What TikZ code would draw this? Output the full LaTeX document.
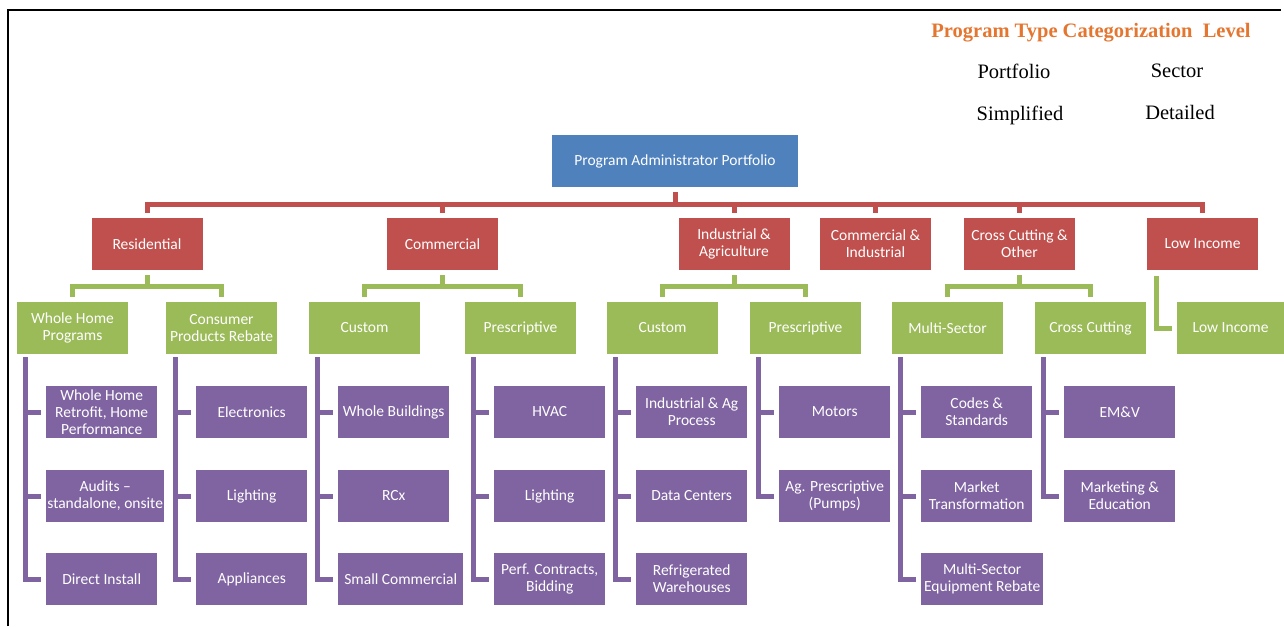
\documentclass[tikz,border=0pt]{standalone}
\usepackage{fontspec}
\newfontfamily\cf{Carlito}
\newfontfamily\tnr{Liberation Serif}
\definecolor{cblue}{RGB}{79,129,189}
\definecolor{cred}{RGB}{192,80,77}
\definecolor{cgreen}{RGB}{155,187,89}
\definecolor{cpurple}{RGB}{128,100,162}
\definecolor{corange}{RGB}{228,118,48}
\begin{document}
\begin{tikzpicture}[x=1pt,y=-1pt,
  box/.style={rectangle, inner sep=0pt, minimum height=52pt, minimum width=111pt, text=white, align=center, font=\cf\fontsize{15.5}{17}\selectfont},
  bbox/.style={box, fill=cblue},
  rbox/.style={box, fill=cred},
  gbox/.style={box, fill=cgreen},
  pbox/.style={box, fill=cpurple, anchor=west},
  rline/.style={draw=cred, line width=5pt},
  gline/.style={draw=cgreen, line width=5pt},
  pline/.style={draw=cpurple, line width=5pt},
  legtitle/.style={inner sep=0pt, text=corange, font=\tnr\bfseries\fontsize{20.5}{24}\selectfont},
  leg/.style={inner sep=0pt, font=\tnr\fontsize{20.5}{24}\selectfont}
]
\useasboundingbox (0,0) rectangle (1284,626);
\fill[white] (0,0) rectangle (1284,626);
\draw[line width=2pt] (8,626) -- (8,10) -- (1281,10);

% legend
\node[legtitle] (lt) at (1091,33) {Program Type Categorization\ \ Level};
\node[leg] (l1) at (1014,71) {Portfolio};
\node[leg] (l2) at (1177,71) {Sector};
\node[leg] (l3) at (1020,115) {Simplified};
\node[leg] (l4) at (1180,112) {Detailed};

% top
\node[bbox, minimum width=246pt] (top) at (675,161) {Program Administrator Portfolio};

% sectors
\node[rbox] (res) at (147,244) {Residential};
\node[rbox] (com) at (442.5,244) {Commercial};
\node[rbox] (ind) at (734,244) {Industrial \&\\Agriculture};
\node[rbox] (ci) at (875.5,244) {Commercial \&\\Industrial};
\node[rbox] (cc) at (1019.5,244) {Cross Cutting \&\\Other};
\node[rbox] (li) at (1202.5,244) {Low Income};

% simplified
\node[gbox] (wh) at (72.5,328) {Whole Home\\Programs};
\node[gbox] (cp) at (221.5,328) {Consumer\\Products Rebate};
\node[gbox] (ccu) at (364.5,328) {Custom};
\node[gbox] (cpr) at (520.5,328) {Prescriptive};
\node[gbox] (icu) at (662.5,328) {Custom};
\node[gbox] (ipr) at (805.5,328) {Prescriptive};
\node[gbox] (ms) at (947.5,328) {Multi-Sector};
\node[gbox] (xc) at (1090.5,328) {Cross Cutting};
\node[gbox, minimum width=107pt] (lig) at (1230.5,328) {Low Income};

% detailed
\node[pbox] (wh1) at (46,412) {Whole Home\\Retrofit, Home\\Performance};
\node[pbox, minimum width=118pt] (wh2) at (46,496) {Audits –\\standalone, onsite};
\node[pbox] (wh3) at (46,579) {Direct Install};

\node[pbox] (cp1) at (196,412) {Electronics};
\node[pbox] (cp2) at (196,496) {Lighting};
\node[pbox] (cp3) at (196,579) {Appliances};

\node[pbox] (ccu1) at (338,412) {Whole Buildings};
\node[pbox] (ccu2) at (338,496) {RCx};
\node[pbox, minimum width=125pt] (ccu3) at (338,579) {Small Commercial};

\node[pbox] (cpr1) at (494,412) {HVAC};
\node[pbox] (cpr2) at (494,496) {Lighting};
\node[pbox] (cpr3) at (494,579) {Perf. Contracts,\\Bidding};

\node[pbox] (icu1) at (636,412) {Industrial \& Ag\\Process};
\node[pbox] (icu2) at (636,496) {Data Centers};
\node[pbox] (icu3) at (636,579) {Refrigerated\\Warehouses};

\node[pbox] (ipr1) at (779,412) {Motors};
\node[pbox] (ipr2) at (779,496) {Ag. Prescriptive\\(Pumps)};

\node[pbox] (ms1) at (921,412) {Codes \&\\Standards};
\node[pbox] (ms2) at (921,496) {Market\\Transformation};
\node[pbox, minimum width=122pt] (ms3) at (921,579) {Multi-Sector\\Equipment Rebate};

\node[pbox] (xc1) at (1064,412) {EM\&V};
\node[pbox] (xc2) at (1064,496) {Marketing \&\\Education};

% red connectors
\draw[rline, line cap=rect] ([yshift=13pt]res.north) -- ([yshift=13pt]li.north);
\draw[rline] ([yshift=-5pt]top.south) -- ([yshift=-18pt]top.south);
\foreach \n in {res,com,ind,ci,cc,li}
  \draw[rline] ([yshift=13pt]\n.north) -- ([yshift=5pt]\n.north);

% green connectors
\foreach \p/\a/\b in {res/wh/cp, com/ccu/cpr, ind/icu/ipr, cc/ms/xc} {
  \coordinate (ga) at ([yshift=15pt]\a.north);
  \coordinate (gb) at ([yshift=15pt]\b.north);
  \draw[gline, line join=miter] ([yshift=5pt]\a.north) -- (ga) -- (gb) -- ([yshift=5pt]\b.north);
  \draw[gline] ([yshift=-5pt]\p.south) -- (\p.south |- ga);
}
\coordinate (lv) at ([xshift=10pt,yshift=-6pt]li.south west);
\draw[gline, line join=miter, shorten >=5pt] (lv) |- (lig.west);

% purple connectors
\foreach \g/\a/\b/\c in {wh/wh1/wh2/wh3, cp/cp1/cp2/cp3, ccu/ccu1/ccu2/ccu3, cpr/cpr1/cpr2/cpr3, icu/icu1/icu2/icu3, ms/ms1/ms2/ms3} {
  \coordinate (v) at ([xshift=-21pt]\a.west);
  \draw[pline, line join=miter, shorten >=5pt] ([yshift=-3pt]v |- \g.south) |- (\c.west);
  \draw[pline, shorten >=5pt] (v) -- (\a.west);
  \draw[pline, shorten >=5pt] (v |- \b.west) -- (\b.west);
}
\foreach \g/\a/\b in {ipr/ipr1/ipr2, xc/xc1/xc2} {
  \coordinate (v) at ([xshift=-21pt]\a.west);
  \draw[pline, line join=miter, shorten >=5pt] ([yshift=-3pt]v |- \g.south) |- (\b.west);
  \draw[pline, shorten >=5pt] (v) -- (\a.west);
}
\end{tikzpicture}
\end{document}
